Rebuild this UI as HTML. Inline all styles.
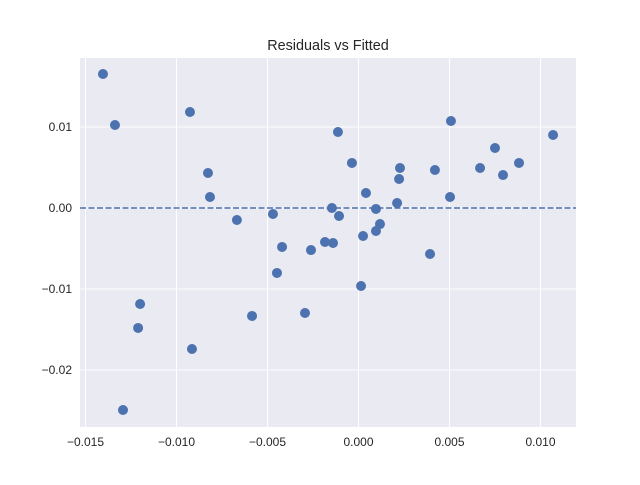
<!DOCTYPE html>
<html><head><meta charset="utf-8"><style>
html,body{margin:0;padding:0;background:#fff;}
svg text{font-family:"Liberation Sans",sans-serif;fill:#262626;}
</style></head><body>
<svg id="chart" width="640" height="480">
<rect x="0" y="0" width="640" height="480" fill="#fff"/>
<rect x="80" y="58" width="496" height="369" fill="#eaeaf2"/>
<g id="grid"></g><g id="ticks"></g><g id="marks"></g>
<text x="328" y="50" text-anchor="middle" font-size="14.4">Residuals vs Fitted</text>
</svg>
<script>
const fitted=[-0.01404,-0.01338,-0.00926,-0.00827,-0.00816,-0.00668,-0.0120,-0.01211,-0.00915,-0.01294,-0.0047,-0.0042,-0.00448,-0.00585,-0.00294,-0.00261,-0.00184,-0.00146,-0.0014,-0.00107,-0.00113,-0.00036,0.00041,0.00025,0.00014,0.00096,0.00096,0.00118,0.00212,0.00228,0.00223,0.00393,0.0042,0.00503,0.00508,0.00668,0.0075,0.00794,0.00882,0.01069];
const residuals=[0.01654,0.01025,0.01185,0.00432,0.00136,-0.00148,-0.01185,-0.01481,-0.01741,-0.02494,-0.00074,-0.00481,-0.00802,-0.01333,-0.01296,-0.00519,-0.0042,0.0,-0.00432,-0.00099,0.00938,0.00556,0.00185,-0.00346,-0.00963,-0.00012,-0.00284,-0.00198,0.00062,0.00494,0.00358,-0.00568,0.00469,0.00136,0.01074,0.00494,0.00741,0.00407,0.00556,0.00901];
const xTicks=[-0.015,-0.010,-0.005,0.000,0.005,0.010];
const xTickLabels=["−0.015","−0.010","−0.005","0.000","0.005","0.010"];
const yTicks=[-0.02,-0.01,0.00,0.01];
const yTickLabels=["−0.02","−0.01","0.00","0.01"];
const NS="http://www.w3.org/2000/svg";
const X=v=>358.5+v*18200;
const Y=v=>208-v*8100;
function mk(tag,attrs,parent){const e=document.createElementNS(NS,tag);for(const k in attrs)e.setAttribute(k,attrs[k]);document.getElementById(parent).appendChild(e);return e;}
xTicks.forEach((t,i)=>{
 const l=mk('line',{x1:X(t),x2:X(t),y1:58,y2:427,stroke:'#fff','stroke-width':1},'grid');
 
 
 const tx=mk('text',{x:X(t),y:446,'text-anchor':'middle','font-size':12},'ticks');
 tx.textContent=xTickLabels[i];
 
 
});
yTicks.forEach((t,i)=>{
 const l=mk('line',{x1:80,x2:576,y1:Y(t),y2:Y(t),stroke:'#fff','stroke-width':1},'grid');
 
 
 const tx=mk('text',{x:72,y:Y(t)+4,'text-anchor':'end','font-size':12},'ticks');
 tx.textContent=yTickLabels[i];
 
 
});
const zl=mk('line',{x1:80,x2:576,y1:Y(0),y2:Y(0),stroke:'#4c72b0','stroke-width':1.6,'stroke-dasharray':'6,2.5'},'marks');


fitted.forEach((f,i)=>{
 const c=mk('circle',{cx:X(f),cy:Y(residuals[i]),r:5,fill:'#4c72b0'},'marks');
 
 
});
</script>
</body></html>
